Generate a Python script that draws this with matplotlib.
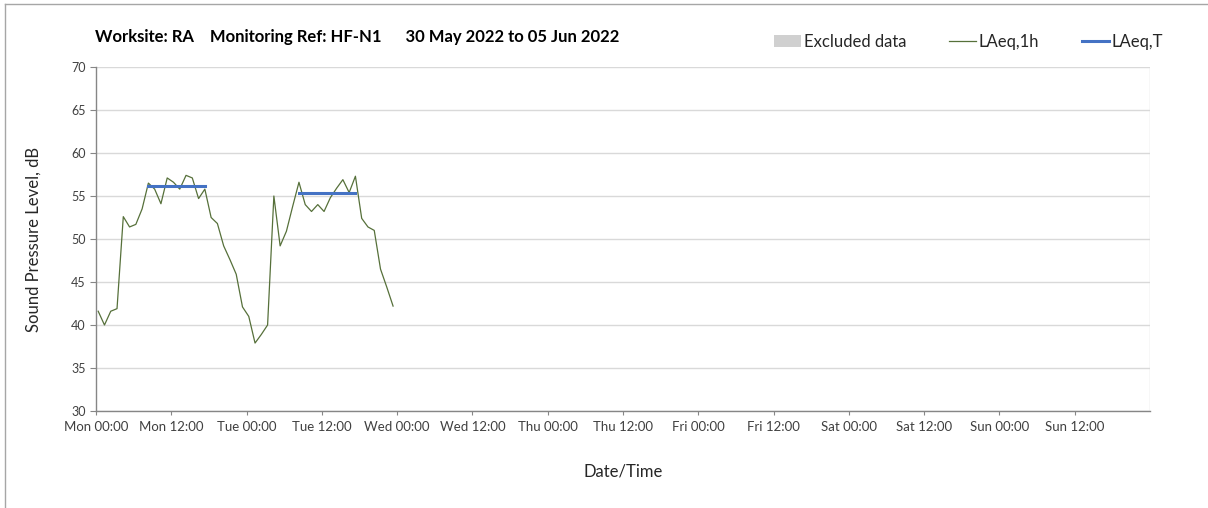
import numpy as np
import matplotlib.pyplot as plt
from matplotlib.lines import Line2D
from matplotlib.patches import Patch

# hourly LAeq,1h values, Mon 00:00 to Tue 23:00
laeq_1h = [41.6, 40.0, 41.6, 41.9, 52.6, 51.4, 51.7, 53.5, 56.5, 55.8, 54.1, 57.1,
           56.6, 55.8, 57.4, 57.1, 54.7, 55.8, 52.5, 51.8, 49.2, 47.6, 45.9, 42.1,
           41.0, 37.9, 38.9, 40.0, 55.0, 49.2, 50.9, 53.8, 56.6, 54.0, 53.2, 54.0,
           53.2, 54.8, 55.9, 56.9, 55.4, 57.3, 52.4, 51.4, 51.0, 46.5, 44.4, 42.2]
hour_offset = 0.35

# LAeq,T day periods: (start index, end index, level)
laeq_t = [(8, 17, 56.2), (32, 41, 55.3)]

tick_labels = ['Mon 00:00', 'Mon 12:00', 'Tue 00:00', 'Tue 12:00', 'Wed 00:00', 'Wed 12:00',
               'Thu 00:00', 'Thu 12:00', 'Fri 00:00', 'Fri 12:00', 'Sat 00:00', 'Sat 12:00',
               'Sun 00:00', 'Sun 12:00']

plt.rcParams['font.family'] = ['Lato', 'DejaVu Sans']

hours = np.arange(len(laeq_1h)) + hour_offset

fig = plt.figure(figsize=(12.08, 5.08), dpi=100)
ax = fig.add_axes([96 / 1208, 97 / 508, 1054 / 1208, 344 / 508])

ax.plot(hours, laeq_1h, color='#56703A', linewidth=0.9)
for i0, i1, lev in laeq_t:
    ax.plot([hours[i0], hours[i1]], [lev, lev], color='#4472C4', linewidth=2.2)

ax.set_xlim(0, 168)
ax.set_ylim(30, 70)
ax.set_xticks(np.arange(0, 168, 12))
ax.set_xticklabels(tick_labels, fontsize=9.5, color='#404040')
ax.set_yticks(np.arange(30, 71, 5))
ax.tick_params(axis='y', labelsize=9, colors='#868686', labelcolor='#404040', length=4, width=0.8, direction='out')
ax.tick_params(axis='x', length=3, width=0.8, direction='out', colors='#868686', labelcolor='#404040', pad=4)

ax.set_xticks(np.arange(24, 169, 24), minor=True)
ax.tick_params(axis='x', which='minor', length=0)
ax.grid(axis='x', which='minor', color='#D9D9D9', linewidth=1)
ax.grid(axis='y', which='major', color='#D9D9D9', linewidth=1)
ax.set_axisbelow(True)

for s in ['top', 'right']:
    ax.spines[s].set_visible(False)
for s in ['left', 'bottom']:
    ax.spines[s].set_color('#868686')
    ax.spines[s].set_linewidth(1)

ax.set_ylabel('Sound Pressure Level, dB', fontsize=12, color='#262626', labelpad=21)
ax.set_xlabel('Date/Time', fontsize=12, color='#262626', labelpad=22)

fig.text(95 / 1208, 1 - 37 / 508, 'Worksite: RA    Monitoring Ref: HF-N1      30 May 2022 to 05 Jun 2022',
         fontsize=12, fontweight='bold', va='center', ha='left', color='#000000')

handles = [Patch(facecolor='#D0D0D0', edgecolor='none'),
           Line2D([], [], color='#56703A', linewidth=0.9),
           Line2D([], [], color='#4472C4', linewidth=2.2)]
fig.legend(handles, ['Excluded data', 'LAeq,1h', 'LAeq,T'], loc='center right',
           bbox_to_anchor=(1178 / 1208, 1 - 42 / 508), ncol=3, frameon=False, fontsize=12,
           handlelength=1.6, handletextpad=0.15, columnspacing=2.6, labelcolor='#262626')

# outer chart border
fig.add_artist(Line2D([5 / 1208, 5 / 1208], [0, 1 - 4 / 508], transform=fig.transFigure, color='#A6A6A6', linewidth=1))
fig.add_artist(Line2D([5 / 1208, 1], [1 - 4 / 508, 1 - 4 / 508], transform=fig.transFigure, color='#A6A6A6', linewidth=1))

fig.savefig('out.png', dpi=100)
